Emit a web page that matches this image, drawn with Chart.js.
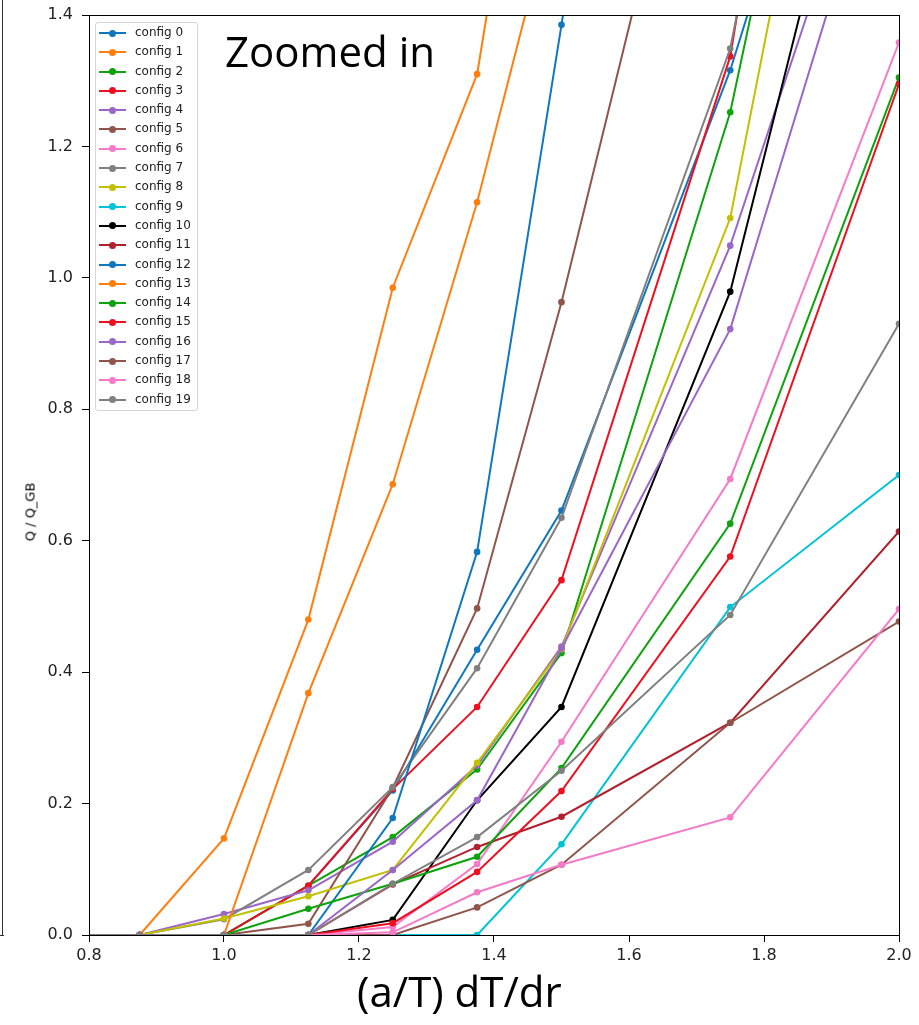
<!DOCTYPE html>
<html>
<head>
<meta charset="utf-8">
<script src="https://cdn.jsdelivr.net/npm/chart.js@4.4.1/dist/chart.umd.min.js"></script>
<style>
  body { margin: 0; background: #fff; }
  #wrap { position: relative; width: 919px; height: 1025px; }
  #edge { position: absolute; left: 2px; top: 0; width: 0; height: 936px; border-left: 1.5px solid #333; }
  #edgeTick { position: absolute; left: 0; top: 935px; width: 4px; height: 0; border-top: 1px solid #333; }
  .note { position: absolute; font-family: "Open Sans", sans-serif; font-size: 42px; line-height: 1; color: #000; white-space: nowrap; }
  #ylab { position: absolute; left: 30px; top: 512px; transform: translate(-50%, -50%) rotate(-90deg); font-family: "DejaVu Sans", sans-serif; font-size: 13px; color: #000; white-space: nowrap; }
  #legend { position: absolute; left: 95px; top: 22px; width: 103px; height: 389px; border: 1px solid #d6d6d6; border-radius: 3px; background: rgba(255,255,255,0.8); box-sizing: border-box; }
  .row { position: relative; height: 19.3px; }
  .row .ln { position: absolute; left: 3px; top: 9px; width: 27px; height: 2px; }
  .row .dot { position: absolute; left: 13px; top: 6.5px; width: 7px; height: 7px; border-radius: 50%; }
  .row .tx { position: absolute; left: 39px; top: 0; line-height: 19.3px; font-family: "DejaVu Sans", sans-serif; font-size: 12px; color: #222; white-space: nowrap; }
</style>
</head>
<body>
<div id="wrap">
  <canvas id="chart"></canvas>
  <div id="edge"></div>
  <div id="edgeTick"></div>
  <div id="legend"></div>
  <div id="ylab">Q / Q_GB</div>
  <div class="note" style="left:225px; top:30px;">Zoomed in</div>
  <div class="note" style="left:357px; top:970px;">(a/T) dT/dr</div>
</div>
<script>
// x positions of the scan (a/T) dT/dr
const gradients = [0.75, 0.875, 1.0, 1.125, 1.25, 1.375, 1.5, 1.75, 2.0];

// Q / Q_GB per config (null = past the end of the run)
const config0  = [0, 0, 0, 0.075, 0.220, 0.434, 0.646, 1.316, 2.14];
const config1  = [0, 0, 0.147, 0.480, 0.985, 1.310, 2.10, null, null];
const config2  = [0, 0, 0, 0.075, 0.149, 0.252, 0.429, 1.252, 2.46];
const config3  = [0, 0, 0, 0.075, 0.222, 0.347, 0.540, 1.337, 2.90];
const config4  = [0, 0, 0.032, 0.068, 0.142, 0.258, 0.439, 1.049, 1.82];
const config5  = [0, 0, 0, 0.017, 0.224, 0.497, 0.963, 2.01, null];
const config6  = [0, 0, 0, 0, 0.012, 0.108, 0.294, 0.694, 1.358];
const config7  = [0, 0, 0.024, 0.099, 0.225, 0.406, 0.635, 1.349, 2.66];
const config8  = [0, 0, 0.025, 0.059, 0.099, 0.262, 0.435, 1.091, 2.40];
const config9  = [0, 0, 0, 0, 0, 0, 0.138, 0.499, 0.700];
const config10 = [0, 0, 0, 0, 0.023, 0.205, 0.347, 0.979, 2.00];
const config11 = [0, 0, 0, 0, 0.077, 0.134, 0.180, 0.323, 0.614];
const config12 = [0, 0, 0, 0, 0.178, 0.583, 1.385, 3.10, null];
const config13 = [0, 0, 0, 0.368, 0.686, 1.115, 1.615, null, null];
const config14 = [0, 0, 0, 0.040, 0.078, 0.119, 0.254, 0.626, 1.305];
const config15 = [0, 0, 0, 0, 0.018, 0.096, 0.219, 0.576, 1.295];
const config16 = [0, 0, 0, 0, 0.099, 0.205, 0.436, 0.922, 1.76];
const config17 = [0, 0, 0, 0, 0, 0.042, 0.107, 0.323, 0.477];
const config18 = [0, 0, 0, 0, 0.004, 0.065, 0.107, 0.179, 0.496];
const config19 = [0, 0, 0, 0, 0.078, 0.149, 0.250, 0.487, 0.930];

const configNames = ['config 0', 'config 1', 'config 2', 'config 3', 'config 4', 'config 5', 'config 6',
  'config 7', 'config 8', 'config 9', 'config 10', 'config 11', 'config 12', 'config 13', 'config 14',
  'config 15', 'config 16', 'config 17', 'config 18', 'config 19'];
const configValues = [config0, config1, config2, config3, config4, config5, config6, config7, config8, config9,
  config10, config11, config12, config13, config14, config15, config16, config17, config18, config19];
const configColors = ['#0f77bf', '#ff7f0e', '#0ca30c', '#ee1020', '#9a66c8', '#8f554a', '#f57ac8', '#808080',
  '#c2c000', '#00c3d5', '#000000', '#b2202e', '#0f77bf', '#ff7f0e', '#0ca30c', '#ee1020', '#9a66c8',
  '#8f554a', '#f57ac8', '#808080'];

const xTicks = [0.8, 1.0, 1.2, 1.4, 1.6, 1.8, 2.0];
const yTicks = [0.0, 0.2, 0.4, 0.6, 0.8, 1.0, 1.2, 1.4];

// legend drawn as html inside the plot
const legendBox = document.getElementById('legend');
configNames.forEach((name, i) => {
  const row = document.createElement('div');
  row.className = 'row';
  row.innerHTML = '<span class="ln" style="background:' + configColors[i] + '"></span>' +
    '<span class="dot" style="background:' + configColors[i] + '"></span>' +
    '<span class="tx">' + name + '</span>';
  legendBox.appendChild(row);
});

const datasets = configNames.map((name, i) => ({
  label: name,
  data: gradients.map((x, k) => ({ x: x, y: configValues[i][k] })),
  borderColor: configColors[i],
  backgroundColor: configColors[i],
  borderWidth: 2,
  pointRadius: 3.3,
  pointBorderWidth: 0,
  pointHoverRadius: 3.3,
  tension: 0,
  clip: 0,
  order: configNames.length - i
}));

// box around the plot
const frame = {
  id: 'frame',
  afterDatasetsDraw(chart) {
    const { ctx, chartArea: a } = chart;
    ctx.save();
    ctx.strokeStyle = '#000';
    ctx.lineWidth = 1;
    ctx.strokeRect(Math.round(a.left) + 0.5, Math.round(a.top) + 0.5, Math.round(a.right - a.left), Math.round(a.bottom - a.top));
    ctx.restore();
  }
};

const tickFont = { family: 'DejaVu Sans', size: 16 };

new Chart(document.getElementById('chart'), {
  type: 'line',
  data: { datasets: datasets },
  options: {
    responsive: true,
    maintainAspectRatio: false,
    animation: false,
    layout: { padding: { left: 0, right: 20, top: 15, bottom: 0 } },
    plugins: { legend: { display: false }, tooltip: { enabled: false } },
    scales: {
      x: {
        type: 'linear',
        min: 0.8,
        max: 2.0,
        afterBuildTicks: (s) => { s.ticks = xTicks.map(v => ({ value: v })); },
        afterFit: (s) => { s.height = 90; s.paddingLeft = 0; s.paddingRight = 0; },
        ticks: { font: tickFont, color: '#222', padding: 4, callback: v => v.toFixed(1), maxRotation: 0 },
        grid: { display: true, drawOnChartArea: false, drawTicks: true, tickLength: 7, color: '#000' },
        border: { display: true, color: '#000', width: 1 }
      },
      y: {
        min: 0,
        max: 1.4,
        afterBuildTicks: (s) => { s.ticks = yTicks.map(v => ({ value: v })); },
        afterFit: (s) => { s.width = 89; s.paddingTop = 0; s.paddingBottom = 0; },
        ticks: { font: tickFont, color: '#222', padding: 9, callback: v => v.toFixed(1) },
        grid: { display: true, drawOnChartArea: false, drawTicks: true, tickLength: 7, color: '#000' },
        border: { display: true, color: '#000', width: 1 }
      }
    }
  },
  plugins: [frame]
});
</script>
</body>
</html>
